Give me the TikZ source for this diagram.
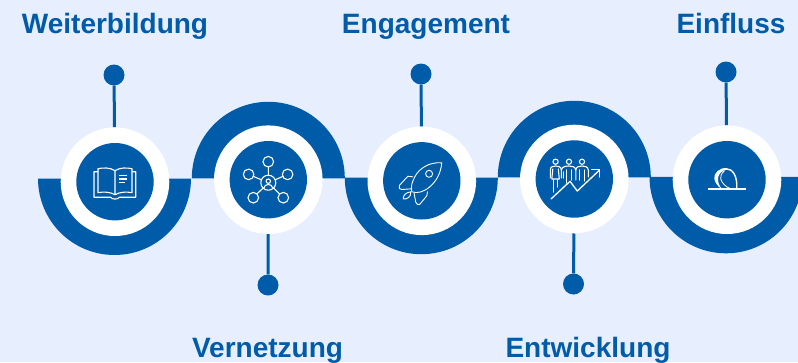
\documentclass[tikz,border=0pt]{standalone}
\usepackage{fontspec}
\setmainfont{Liberation Sans}
\definecolor{pagebg}{HTML}{E7EEFE}
\definecolor{mainblue}{HTML}{005CA8}
\tikzset{
  ring/.style = {circle, fill = white, minimum size = 108.6pt, inner sep = 0pt},
  hub/.style = {circle, fill = mainblue, minimum size = 77.4pt, inner sep = 0pt},
  pin/.style = {circle, fill = mainblue, minimum size = 21pt, inner sep = 0pt},
  stem/.style = {draw = mainblue, line width = 3pt},
  title/.style = {anchor = base, text = mainblue, font = \fontsize{28}{30}\selectfont\bfseries},
  icon/.style = {draw = white, line width = 1.1pt, line join = round, line cap = round},
}
\begin{document}
\begin{tikzpicture}[x = 1pt, y = -1pt]
  \useasboundingbox (0,0) rectangle (798,362);
  \clip (0,0) rectangle (798,362);
  \fill[pagebg] (0,0) rectangle (798,362);

  \fill[mainblue] (38,178.5) arc[start angle = 180, end angle = 0, radius = 76.5] -- cycle;
  \fill[mainblue] (191.8,178.3) arc[start angle = 180, end angle = 360, radius = 76.5] -- cycle;
  \fill[mainblue] (344.8,177.7) arc[start angle = 180, end angle = 0, radius = 76.5] -- cycle;
  \fill[mainblue] (497.8,177.3) arc[start angle = 180, end angle = 360, radius = 76.5] -- cycle;
  \fill[mainblue] (649.5,176.8) arc[start angle = 180, end angle = 0, radius = 76.5] -- cycle;

  \node[ring] (ring1) at (115,181.7) {};
  \node[ring] (ring2) at (268.3,179.7) {};
  \node[ring] (ring3) at (421.8,180.8) {};
  \node[ring] (ring4) at (574.3,179) {};
  \node[ring] (ring5) at (727,179.7) {};

  \node[hub] (hub1) at (ring1) {};
  \node[hub] (hub2) at (ring2) {};
  \node[hub] (hub3) at (ring3) {};
  \node[hub] (hub4) at (ring4) {};
  \node[hub] (hub5) at (ring5) {};

  \node[pin] (pin1) at (114,75) {};
  \node[pin] (pin2) at (268,285) {};
  \node[pin] (pin3) at (421,74) {};
  \node[pin] (pin4) at (573.5,284) {};
  \node[pin] (pin5) at (726,72) {};

  \draw[stem] (pin1) -- (ring1);
  \draw[stem] (pin2) -- (ring2);
  \draw[stem] (pin3) -- (ring3);
  \draw[stem] (pin4) -- (ring4);
  \draw[stem] (pin5) -- (ring5);

  \node[title] (weiter) at (115,33) {Weiterbildung};
  \node[title] (vernetz) at (267.5,357) {Vernetzung};
  \node[title] (engage) at (426,33) {Engagement};
  \node[title] (entwick) at (588,357) {Entwicklung};
  \node[title] (einfluss) at (731,33) {Einfluss};

  % book
  \begin{scope}[shift = {(hub1.center)}, icon]
    \draw (-17,-10) -- (-21,-10) -- (-21,15.5) -- (-4.5,15.5) .. controls (-3,18) and (3,18) .. (4.5,15.5) -- (20.7,15.5) -- (20.7,-10) -- (17,-10);
    \draw (0,-11) .. controls (-5,-14.5) and (-12,-14) .. (-17,-13) -- (-17,11) .. controls (-12,10) and (-5,10) .. (0,13);
    \draw (0,-11) .. controls (5,-14.5) and (12,-14) .. (17,-13) -- (17,11) .. controls (12,10) and (5,10) .. (0,13) -- cycle;
    \draw[line width = 1.8pt, line cap = butt] (4,-6.3) -- (12.3,-6.3) (4,-3) -- (12.3,-3) (4,0.7) -- (9.5,0.7);
  \end{scope}

  % network
  \begin{scope}[shift = {(hub2.center)}, icon]
    \draw (0,3) circle (7.5);
    \draw (0,1.5) circle (2.2);
    \draw (-4.5,8.5) .. controls (-4,3.5) and (4,3.5) .. (4.5,8.5);
    \draw (0,-18) circle (5.3) (-19.7,-5.3) circle (5.3) (19.3,-5.3) circle (5.3) (-15,18) circle (5.3) (15,18) circle (5.3);
    \draw (0,-12.7) -- (0,-4.5) (-14.8,-3.2) -- (-7,0) (14.4,-3.2) -- (7,0) (-11.3,14.2) -- (-5.2,8.3) (11.3,14.2) -- (5.2,8.3);
  \end{scope}

  % rocket
  \begin{scope}[shift = {(hub3.center)}, icon, line width = 0.9pt]
    \draw (20,-18) .. controls (7,-19) and (-3,-12) .. (-7,-4) .. controls (-10,2) and (-11,5) .. (-10,11) .. controls (-4,13) and (2,11) .. (8,6) .. controls (15,0) and (19,-8) .. (20,-18) -- cycle;
    \draw (7.3,-7) circle (3.5);
    \draw (-9,-4) -- (-14,-4.5) -- (-22.3,4.5) .. controls (-23.5,7) and (-22.5,8.7) .. (-20,8.7) -- (-10,8);
    \draw (5.7,11) -- (5,15) -- (-2,23.5) .. controls (-4,24.5) and (-5,23.5) .. (-6,21.5) -- (-7.7,12.5);
    \draw (-11,11) .. controls (-16,11.5) and (-19,15) .. (-18.5,18) .. controls (-15,19) and (-10.5,16) .. (-11,11) -- cycle;
  \end{scope}

  % people and rising arrow
  \begin{scope}[shift = {(hub4.center)}, icon]
    \draw (-18.7,-17.3) circle (2.6) (-5.3,-17.3) circle (2.6) (7.7,-17.3) circle (2.6);
    \draw (-24,-1) -- (-24,-9) .. controls (-24,-12.5) and (-21,-13) .. (-18.7,-13) .. controls (-16.5,-13) and (-13,-12.5) .. (-13,-9) -- (-13,-1);
    \draw (-21.5,-10) -- (-22.5,0) -- (-15,0) -- (-16,-10);
    \draw (-20.5,1) -- (-20.5,13) (-17,1) -- (-17,8);
    \draw (-13,-9) .. controls (-12.5,-12.5) and (-8,-13) .. (-5.3,-13) .. controls (-2.5,-13) and (1,-12.5) .. (1.5,-9) -- (1.5,1);
    \draw (-11,-1) -- (-11,-7) (-8,-9) -- (-8,4) (-3,-9) -- (-3,1);
    \draw (1.5,-9) .. controls (2,-12.5) and (5,-13) .. (7.7,-13) .. controls (10.5,-13) and (13.5,-12.5) .. (14,-9) -- (14,-2);
    \draw (5,-9) -- (5,1) (10.5,-9) -- (10.5,2);
    \draw[line width = 1.3pt] (-23.3,20) -- (-4.3,2.3) -- (3,12) -- (25,-8.7);
    \draw[line width = 1.3pt] (17.5,-9.3) -- (25,-9.3) -- (25,-2);
  \end{scope}

  % loop
  \begin{scope}[shift = {(hub5.center)}, icon]
    \draw[line width = 1.8pt, line cap = butt] (-19,9.3) -- (18.5,9.3);
    \draw[line width = 1.4pt] (9.7,8) .. controls (10.5,-3) and (6,-11) .. (-1,-11);
    \draw[line width = 0.8pt] (-2.7,-8.7) .. controls (-5.5,-6.5) and (-7,-3.5) .. (-6.3,-1) .. controls (-5.5,3) and (-1,7.5) .. (3,8.7);
    \fill[white] (0,-11.6) .. controls (-8,-12.5) and (-13.5,-6) .. (-12.7,-1) .. controls (-12,3) and (-9,7) .. (-5.5,9) .. controls (-8.5,5) and (-9.5,1) .. (-8.8,-2.5) .. controls (-8,-6.5) and (-4.5,-9.5) .. (0,-10) -- cycle;
  \end{scope}
\end{tikzpicture}
\end{document}
